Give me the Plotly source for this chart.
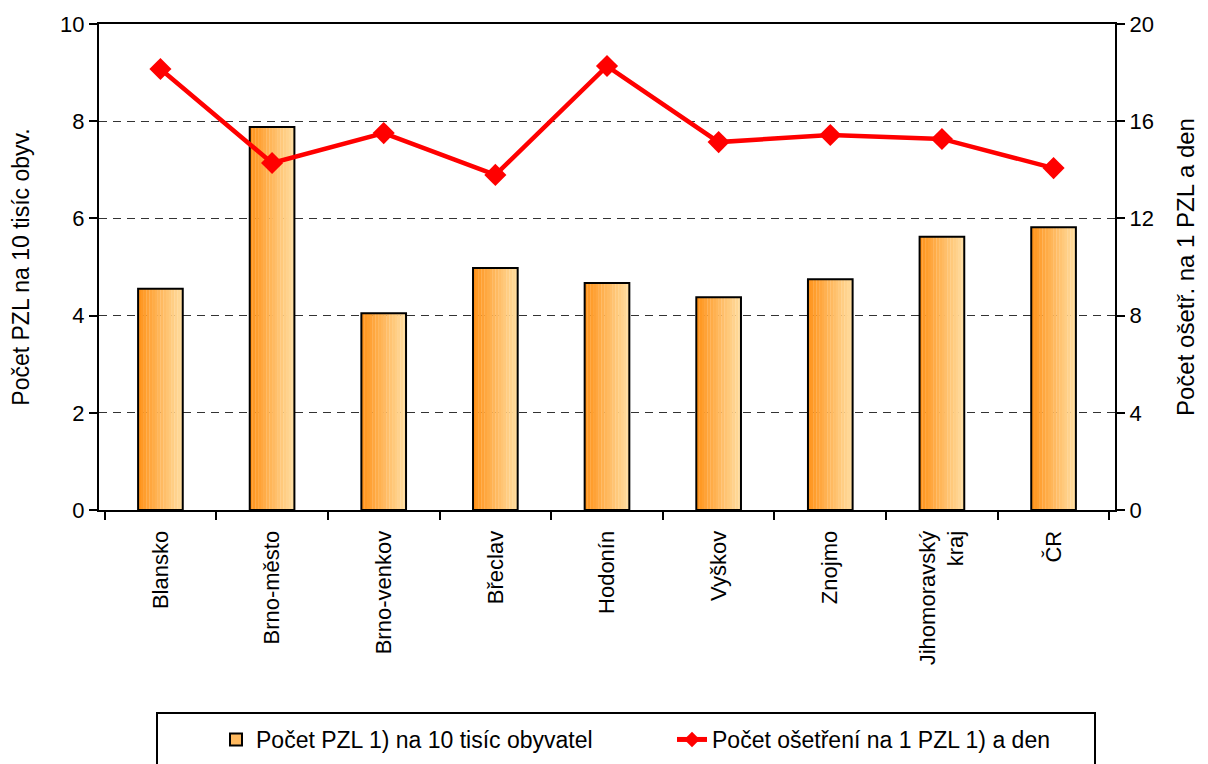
import plotly.graph_objects as go

categories = ["Blansko", "Brno-město", "Brno-venkov", "Břeclav", "Hodonín",
              "Vyškov", "Znojmo", "Jihomoravský<br>kraj", "ČR"]
pzl_per_10k = [4.55, 7.88, 4.05, 4.98, 4.67, 4.38, 4.75, 5.62, 5.82]
treatments_per_pzl = [18.15, 14.28, 15.51, 13.79, 18.27, 15.14, 15.43, 15.27, 14.07]
left_ticks = [0, 2, 4, 6, 8, 10]
right_ticks = [0, 4, 8, 12, 16, 20]

name_bar = "Počet PZL 1) na 10 tisíc obyvatel"
name_line = "Počet ošetření na 1 PZL 1) a den"

FONT = "Liberation Sans, Arial, sans-serif"

# page body has an 8px margin; figure is sized to fit inside the window
W, H = 1200, 756
L, R, T, B = 91, 93, 16, 254
PW, PH = W - L - R, H - T - B


def px_x(x):  # window x -> paper x
    return (x - 8 - L) / PW


def px_y(y):  # window y -> paper y
    return (H - B - (y - 8)) / PH


fig = go.Figure()

# gradient bars built from thin overlaid slices
n_slices = 16
bar_w = 0.4
c0 = (255, 148, 28)
c1 = (255, 220, 158)
for i in range(n_slices):
    t = i / (n_slices - 1)
    col = "rgb({},{},{})".format(*[round(a + (b - a) * t) for a, b in zip(c0, c1)])
    fig.add_trace(go.Bar(
        x=categories, y=pzl_per_10k,
        width=bar_w / n_slices + 0.002,
        offset=-bar_w / 2 + i * bar_w / n_slices,
        marker=dict(color=col, line=dict(width=0)),
        showlegend=False, hoverinfo="skip", yaxis="y",
    ))
# outline bar
fig.add_trace(go.Bar(
    x=categories, y=pzl_per_10k, width=bar_w, offset=-bar_w / 2,
    name=name_bar,
    marker=dict(color="rgba(255,180,90,0.0)", line=dict(color="black", width=2)),
    yaxis="y", showlegend=False,
))
# legend proxy for bars
fig.add_trace(go.Bar(
    x=[categories[0]], y=[None], name=name_bar,
    marker=dict(color="rgb(255,185,95)", line=dict(color="black", width=2)),
    yaxis="y", showlegend=True,
))

fig.add_trace(go.Scatter(
    x=categories, y=treatments_per_pzl, name=name_line, yaxis="y2",
    mode="lines+markers",
    line=dict(color="#FF0000", width=4.5),
    marker=dict(symbol="diamond", size=17, color="#FF0000"),
))

# legend frame
fig.add_shape(type="rect", xref="paper", yref="paper",
              x0=px_x(157), x1=px_x(1095),
              y0=px_y(800), y1=px_y(713),
              line=dict(color="black", width=2), fillcolor="white", layer="below")

fig.update_layout(
    width=W, height=H,
    margin=dict(l=L, r=R, t=T, b=B, autoexpand=False),
    paper_bgcolor="white", plot_bgcolor="white",
    barmode="overlay",
    font=dict(family=FONT, size=22, color="black"),
    xaxis=dict(
        type="category", showline=True, linecolor="black", linewidth=2,
        mirror=True, ticks="outside", tickson="boundaries", ticklen=8,
        tickwidth=2, tickcolor="black", tickangle=-90, showgrid=False,
        tickfont=dict(size=22), ticklabelstandoff=10, automargin=False,
    ),
    yaxis=dict(
        range=[0, 10], tickvals=left_ticks, showline=True, linecolor="black",
        linewidth=2, ticks="outside", ticklen=8, tickwidth=2, tickcolor="black",
        showgrid=True, gridcolor="#333333", gridwidth=1, griddash="8px,6px",
        zeroline=False, automargin=False,
        title=dict(text="Počet PZL na 10 tisíc obyv.", standoff=28, font=dict(size=23)),
    ),
    yaxis2=dict(
        range=[0, 20], tickvals=right_ticks, overlaying="y", side="right",
        showline=True, linecolor="black", linewidth=2, ticks="outside",
        ticklen=8, tickwidth=2, tickcolor="black", showgrid=False, zeroline=False,
        automargin=False,
        title=dict(text="Počet ošetř. na 1 PZL a den", standoff=24, font=dict(size=24)),
    ),
    legend=dict(
        orientation="h", x=px_x(216), xanchor="left", y=px_y(718), yanchor="top",
        borderwidth=0, bgcolor="rgba(0,0,0,0)",
        entrywidth=411, entrywidthmode="pixels",
        font=dict(size=23), itemsizing="constant", traceorder="normal",
    ),
    showlegend=True,
)

fig.write_html("out.html")
